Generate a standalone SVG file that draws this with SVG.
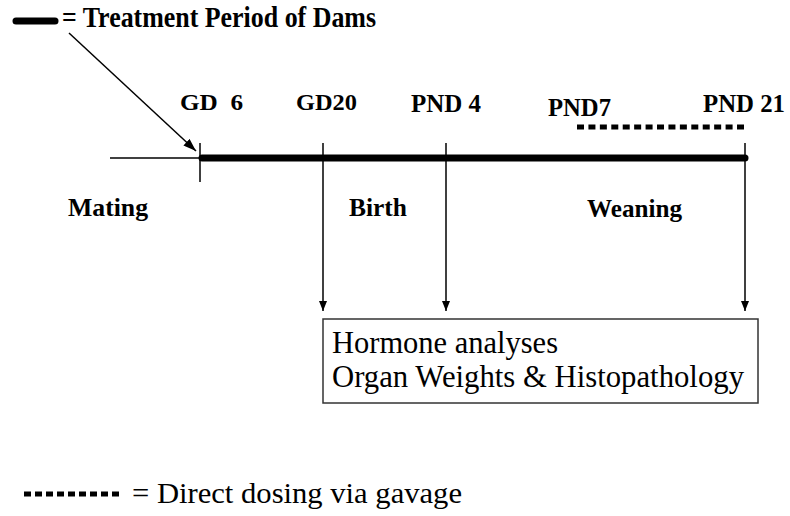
<svg xmlns="http://www.w3.org/2000/svg" width="790" height="516" viewBox="0 0 790 516">
<style>
.bold{font-family:"Liberation Serif","Times New Roman",serif;font-weight:bold;fill:#000}
.reg{font-family:"Liberation Serif","Times New Roman",serif;fill:#000}
.thin{stroke:#000;stroke-width:1.5;fill:none}
.thick{stroke:#000;stroke-width:7;stroke-linecap:round;fill:none}
.dots{stroke:#000;stroke-width:5;fill:none}
</style>
<defs>
<marker id="ah" markerUnits="userSpaceOnUse" markerWidth="10" markerHeight="8" refX="10" refY="4" orient="auto">
<path d="M0,0 L10,4 L0,8 z" fill="#000"/>
</marker>
<marker id="ah2" markerUnits="userSpaceOnUse" markerWidth="13" markerHeight="9" refX="13" refY="4.5" orient="auto">
<path d="M0,0 L13,4.5 L0,9 z" fill="#000"/>
</marker>
</defs>
<rect width="790" height="516" fill="#fff"/>
<g id="legend-treatment">
<line class="thick" x1="16" y1="21" x2="55" y2="21"/>
<text class="bold" x="62" y="26.5" font-size="29" textLength="314" lengthAdjust="spacingAndGlyphs">= Treatment Period of Dams</text>
</g>
<g id="timeline">
<line class="thin" x1="110" y1="158" x2="200" y2="158" stroke-width="1"/>
<line class="thick" x1="202" y1="158" x2="745" y2="158"/>
<line class="thin" x1="200" y1="143" x2="200" y2="182"/>
<line class="dots" x1="577" y1="127" x2="744" y2="127" stroke-dasharray="7 4.43"/>
</g>
<g id="labels">
<text class="bold" x="180" y="110" font-size="24" textLength="63" lengthAdjust="spacingAndGlyphs" xml:space="preserve">GD  6</text>
<text class="bold" x="296" y="110" font-size="24" textLength="61" lengthAdjust="spacingAndGlyphs">GD20</text>
<text class="bold" x="411" y="112" font-size="25" textLength="70" lengthAdjust="spacingAndGlyphs">PND 4</text>
<text class="bold" x="548" y="116" font-size="25" textLength="63" lengthAdjust="spacingAndGlyphs">PND7</text>
<text class="bold" x="703" y="112" font-size="25" textLength="82" lengthAdjust="spacingAndGlyphs">PND 21</text>
<text class="bold" x="68" y="216" font-size="26" textLength="80" lengthAdjust="spacingAndGlyphs">Mating</text>
<text class="bold" x="349" y="216" font-size="26" textLength="58" lengthAdjust="spacingAndGlyphs">Birth</text>
<text class="bold" x="587" y="217" font-size="26" textLength="95" lengthAdjust="spacingAndGlyphs">Weaning</text>
</g>
<g id="connectors">
<line class="thin" x1="69" y1="33" x2="196" y2="151" stroke-width="1.5" marker-end="url(#ah2)"/>
<line class="thin" x1="323" y1="143" x2="323" y2="311" marker-end="url(#ah)"/>
<line class="thin" x1="446" y1="143" x2="446" y2="311" marker-end="url(#ah)"/>
<line class="thin" x1="745" y1="143" x2="745" y2="311" marker-end="url(#ah)"/>
</g>
<g id="results-box">
<rect x="323" y="319" width="435" height="84" fill="none" stroke="#333" stroke-width="1.5"/>
<text class="reg" x="332" y="353" font-size="31" textLength="226" lengthAdjust="spacingAndGlyphs">Hormone analyses</text>
<text class="reg" x="332" y="387" font-size="31" textLength="412" lengthAdjust="spacingAndGlyphs">Organ Weights &amp; Histopathology</text>
</g>
<g id="legend-gavage">
<line class="dots" x1="24" y1="494" x2="121" y2="494" stroke-width="6" stroke-dasharray="7 4"/>
<text class="reg" x="132" y="503" font-size="30" textLength="330" lengthAdjust="spacingAndGlyphs">= Direct dosing via gavage</text>
</g>
</svg>
